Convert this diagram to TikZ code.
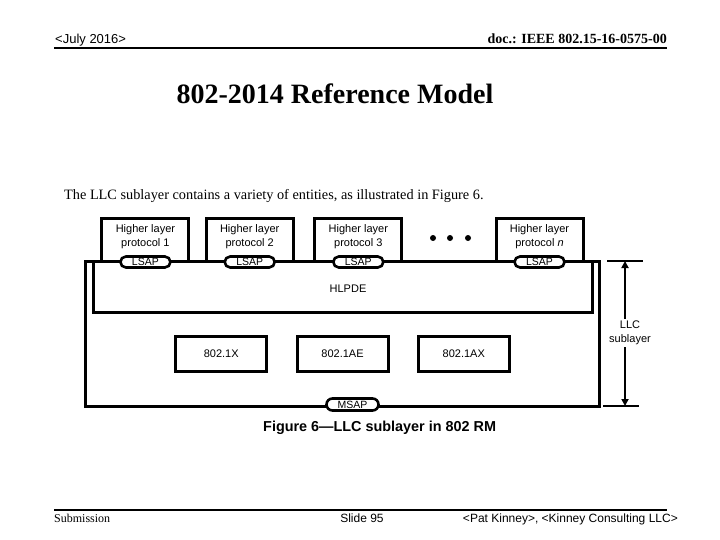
\documentclass[tikz,border=0pt]{standalone}
\usepackage{fontspec}
\setmainfont{Liberation Serif}
\setsansfont{Liberation Sans}
\usetikzlibrary{arrows.meta}
\begin{document}
\begin{tikzpicture}[x=1pt,y=-1pt,
  hlbox/.style={draw, line width=3pt, minimum width=87pt, minimum height=42pt, inner sep=0pt},
  lbl/.style={font=\sffamily\fontsize{11}{14}\selectfont, align=center, inner sep=0pt},
  sap/.style={draw, fill=white, line width=2.6pt, rounded corners=5.5pt, minimum width=50pt, minimum height=11pt, inner sep=0pt, font=\sffamily\fontsize{10.5}{10.5}\selectfont},
  entbox/.style={draw, line width=3pt, minimum width=91pt, minimum height=35pt, inner sep=0pt, font=\sffamily\fontsize{11}{13}\selectfont},
  bigbox/.style={draw, line width=3pt, inner sep=0pt},
  rule/.style={line width=2.5pt}
]
\useasboundingbox (0,0) rectangle (720,540);

% header
\node[anchor=base west, font=\sffamily\fontsize{13}{15}\selectfont, inner sep=0pt] (date) at (55,44) {<July 2016>};
\node[anchor=base east, font=\bfseries\fontsize{14}{16}\selectfont, inner sep=0pt] (doc) at (667,44) {doc.: IEEE 802.15-16-0575-00};
\draw[rule] (54,48) -- (667,48);

% title
\node[anchor=base, font=\bfseries\fontsize{28}{30}\selectfont, inner sep=0pt] (title) at (335,104) {802-2014 Reference Model};

% intro text
\node[anchor=base west, font=\fontsize{14.3}{16}\selectfont, inner sep=0pt] (intro) at (64,200) {The LLC sublayer contains a variety of entities, as illustrated in Figure 6.};

% outer LLC box and HLPDE box
\node[bigbox, minimum width=514pt, minimum height=145pt] (llc) at (342,333.5) {};
\node[bigbox, minimum width=499pt, minimum height=51pt] (hlpde) at (342.5,286.5) {};
\node[lbl] (hlpdet) at (348,289) {HLPDE};

% higher layer protocol boxes
\node[hlbox] (h1) at (145.4,240) {};
\node[hlbox] (h2) at (249.7,240) {};
\node[hlbox] (h3) at (358.3,240) {};
\node[hlbox] (hn) at (539.5,240) {};
\node[lbl] (t1) at (145.4,237) {Higher layer\\protocol 1};
\node[lbl] (t2) at (249.7,237) {Higher layer\\protocol 2};
\node[lbl] (t3) at (358.3,237) {Higher layer\\protocol 3};
\node[lbl] (tn) at (539.5,237) {Higher layer\\protocol \textit{n}};

% dots
\foreach \x/\n in {433/d1,450/d2,468/d3} \node[fill, circle, inner sep=0pt, minimum size=6pt] (\n) at (\x,238) {};

% LSAPs
\node[sap] (l1) at (145.4,262) {LSAP};
\node[sap] (l2) at (249.7,262) {LSAP};
\node[sap] (l3) at (358.3,262) {LSAP};
\node[sap] (ln) at (539.5,262) {LSAP};

% entities
\node[entbox] (x) at (221.2,354.2) {802.1X};
\node[entbox] (ae) at (342.5,354.2) {802.1AE};
\node[entbox] (ax) at (463.8,354.2) {802.1AX};

% MSAP
\node[sap, minimum width=52pt, minimum height=12pt, rounded corners=6pt] (msap) at (352.5,404.5) {MSAP};

% LLC sublayer dimension
\draw[line width=2.2pt] (607,261) -- (643,261);
\draw[line width=2.2pt] (603,406) -- (639,406);
\coordinate (dtop) at (625,261);
\coordinate (dbot) at (625,406);
\draw[line width=2.2pt, {Triangle[length=7pt,width=7pt]}-{Triangle[length=7pt,width=7pt]}] (dtop) -- (dbot);
\node[lbl, fill=white, inner sep=2pt] (dim) at (630,333) {LLC\\sublayer};

% caption
\node[anchor=base west, font=\sffamily\bfseries\fontsize{14.4}{16}\selectfont, inner sep=0pt] (cap) at (263,431) {Figure 6—LLC sublayer in 802 RM};

% footer
\draw[rule] (54,510) -- (667,510);
\node[anchor=base west, font=\fontsize{12}{14}\selectfont, inner sep=0pt] (sub) at (54,522) {Submission};
\node[anchor=base, font=\sffamily\fontsize{12}{14}\selectfont, inner sep=0pt] (slide) at (362,522) {Slide 95};
\node[anchor=base east, font=\sffamily\fontsize{12}{14}\selectfont, inner sep=0pt] (auth) at (678,522) {<Pat Kinney>, <Kinney Consulting LLC>};
\end{tikzpicture}
\end{document}
